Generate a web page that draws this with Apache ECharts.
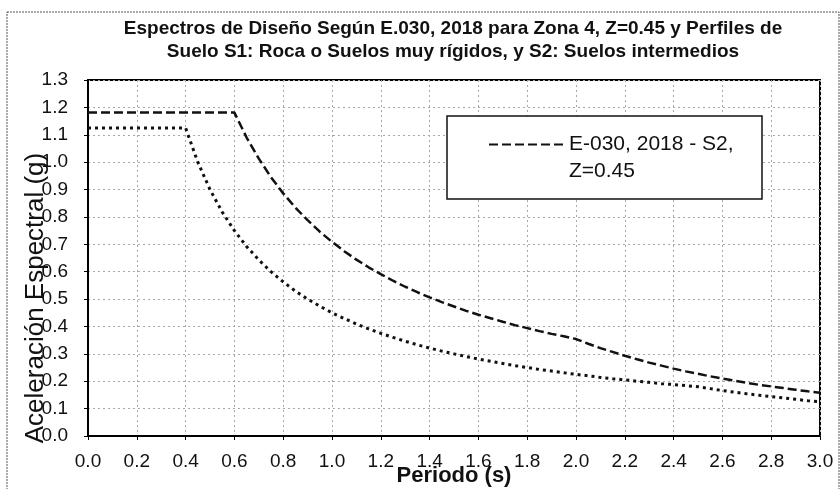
<!DOCTYPE html>
<html>
<head>
<meta charset="utf-8">
<script src="https://cdn.jsdelivr.net/npm/echarts@6/dist/echarts.min.js"></script>
<style>
  html, body { margin: 0; padding: 0; background: #fff; }
  #chart { width: 840px; height: 489px; }
</style>
</head>
<body>
<div id="chart"></div>
<script>
// Periodo T (s), paso 0.05
const periods = [
  0.00, 0.05, 0.10, 0.15, 0.20, 0.25, 0.30, 0.35, 0.40, 0.45,
  0.50, 0.55, 0.60, 0.65, 0.70, 0.75, 0.80, 0.85, 0.90, 0.95,
  1.00, 1.05, 1.10, 1.15, 1.20, 1.25, 1.30, 1.35, 1.40, 1.45,
  1.50, 1.55, 1.60, 1.65, 1.70, 1.75, 1.80, 1.85, 1.90, 1.95,
  2.00, 2.05, 2.10, 2.15, 2.20, 2.25, 2.30, 2.35, 2.40, 2.45,
  2.50, 2.55, 2.60, 2.65, 2.70, 2.75, 2.80, 2.85, 2.90, 2.95,
  3.00
]

// Suelo S2 (línea discontinua)
const saS2 = [
  1.181, 1.181, 1.181, 1.181, 1.181, 1.181, 1.181, 1.181, 1.181, 1.181,
  1.181, 1.181, 1.181, 1.090, 1.013, 0.945, 0.886, 0.834, 0.788, 0.746,
  0.709, 0.675, 0.644, 0.616, 0.591, 0.567, 0.545, 0.525, 0.506, 0.489,
  0.473, 0.457, 0.443, 0.430, 0.417, 0.405, 0.394, 0.383, 0.373, 0.364,
  0.354, 0.337, 0.321, 0.307, 0.293, 0.280, 0.268, 0.257, 0.246, 0.236,
  0.227, 0.218, 0.210, 0.202, 0.194, 0.187, 0.181, 0.175, 0.169, 0.163,
  0.158
]

// Suelo S1 (línea punteada)
const saS1 = [
  1.125, 1.125, 1.125, 1.125, 1.125, 1.125, 1.125, 1.125, 1.125, 1.000,
  0.900, 0.818, 0.750, 0.692, 0.643, 0.600, 0.563, 0.529, 0.500, 0.474,
  0.450, 0.429, 0.409, 0.391, 0.375, 0.360, 0.346, 0.333, 0.321, 0.310,
  0.300, 0.290, 0.281, 0.273, 0.265, 0.257, 0.250, 0.243, 0.237, 0.231,
  0.225, 0.220, 0.214, 0.209, 0.205, 0.200, 0.196, 0.191, 0.188, 0.184,
  0.180, 0.173, 0.166, 0.160, 0.154, 0.149, 0.144, 0.139, 0.134, 0.129,
  0.125
]

const titleText = 'Espectros de Diseño Según E.030, 2018 para Zona 4, Z=0.45 y Perfiles de\nSuelo S1: Roca o Suelos muy rígidos, y S2: Suelos intermedios'
const nameS2 = 'E-030, 2018 - S2,\nZ=0.45'
const nameS1 = 'E-030, 2018 - S1, Z=0.45'

const font = '"Liberation Sans", Arial, sans-serif'
const gridLine = { color: '#a8a8a8', type: [2, 3], width: 1 }

const chart = echarts.init(document.getElementById('chart'))

chart.setOption({
  backgroundColor: '#fff',
  animation: false,
  textStyle: { fontFamily: font },
  title: {
    text: titleText,
    left: 448,
    textAlign: 'center',
    top: 12,
    textStyle: { fontFamily: font, fontSize: 19, fontWeight: 'bold', color: '#111', lineHeight: 23 }
  },
  // marco exterior y caja de la leyenda
  graphic: [
    {
      type: 'rect',
      shape: { x: 7, y: 12, width: 832, height: 490 },
      style: { fill: 'none', stroke: '#555', lineWidth: 1, lineDash: [2, 1] },
      z: 1
    },
    {
      type: 'rect',
      shape: { x: 447, y: 116, width: 315, height: 83 },
      style: { fill: '#fff', stroke: '#111', lineWidth: 1.5 },
      z: 3
    }
  ],
  legend: {
    data: [nameS2],
    left: 488,
    top: 104,
    padding: 0,
    itemWidth: 75,
    itemHeight: 14,
    z: 5,
    selectedMode: false,
    itemStyle: { opacity: 0 },
    // línea vacía arriba para que el icono quede junto a la primera línea
    formatter: name => '\n' + name,
    textStyle: { fontFamily: font, fontSize: 21, color: '#111', lineHeight: 27 }
  },
  grid: {
    left: 88, right: 20, top: 80, bottom: 53,
    outerBoundsMode: 'none',
    containLabel: false,
    show: true,
    backgroundColor: '#fff',
    borderColor: '#000',
    borderWidth: 2
  },
  xAxis: {
    type: 'value',
    min: 0,
    max: 3,
    interval: 0.2,
    name: 'Periodo (s)',
    nameLocation: 'middle',
    nameMoveOverlap: false,
    nameGap: 29,
    nameTextStyle: { fontFamily: font, fontSize: 22, fontWeight: 'bold', color: '#111' },
    axisLine: { lineStyle: { color: '#000', width: 2 } },
    axisTick: { show: true, length: 4, lineStyle: { color: '#000' } },
    axisLabel: { fontSize: 19, color: '#111', margin: 16, formatter: v => v.toFixed(1) },
    splitLine: { show: true, lineStyle: gridLine }
  },
  yAxis: {
    type: 'value',
    min: 0,
    max: 1.3,
    interval: 0.1,
    name: 'Aceleración Espectral (g)',
    nameLocation: 'middle',
    nameMoveOverlap: false,
    nameGap: 39,
    nameRotate: 90,
    nameTextStyle: { fontFamily: font, fontSize: 26, color: '#111', padding: [0, 80, 0, 0] },
    axisLine: { lineStyle: { color: '#000', width: 2 } },
    axisTick: { show: true, length: 4, lineStyle: { color: '#000' } },
    axisLabel: { fontSize: 19, color: '#111', margin: 20, formatter: v => v.toFixed(1) },
    splitLine: { show: true, lineStyle: gridLine }
  },
  series: [
    {
      name: nameS2,
      type: 'line',
      data: periods.map((t, i) => [t, saS2[i]]),
      symbol: 'none',
      z: 2,
      itemStyle: { color: '#111' },
      lineStyle: { color: '#111', width: 2.5, type: [9, 4] }
    },
    {
      name: nameS1,
      type: 'line',
      data: periods.map((t, i) => [t, saS1[i]]),
      symbol: 'none',
      z: 2,
      itemStyle: { color: '#111' },
      lineStyle: { color: '#111', width: 3, type: [3, 4] }
    }
  ]
})
</script>
</body>
</html>
